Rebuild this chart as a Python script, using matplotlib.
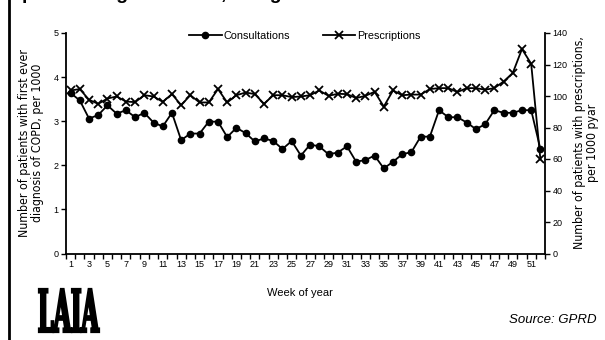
import matplotlib
matplotlib.use("Agg")
import matplotlib.pyplot as plt
from matplotlib.lines import Line2D
from matplotlib.textpath import TextPath
from matplotlib.patches import PathPatch
from matplotlib.font_manager import FontProperties
from matplotlib.transforms import Affine2D
import numpy as np

weeks = list(range(1, 53))

consultations = [
    3.64, 3.47, 3.06, 3.14, 3.36, 3.17, 3.25, 3.09, 3.19, 2.97,
    2.88, 3.19, 2.57, 2.72, 2.72, 2.99, 2.99, 2.64, 2.85, 2.73,
    2.54, 2.61, 2.55, 2.37, 2.55, 2.22, 2.47, 2.43, 2.25, 2.29,
    2.43, 2.08, 2.12, 2.22, 1.93, 2.08, 2.25, 2.30, 2.65, 2.65,
    3.25, 3.09, 3.09, 2.97, 2.82, 2.93, 3.25, 3.19, 3.19, 3.25,
    3.25, 2.37,
]

prescriptions = [
    103.5, 104.4, 97.6, 95.0, 98.4, 99.7, 96.5, 96.1, 100.5, 99.7,
    96.3, 101.2, 94.2, 100.5, 95.9, 95.9, 104.4, 95.9, 100.5, 102.2,
    101.2, 95.0, 100.5, 100.5, 99.3, 99.7, 100.5, 103.5, 100.1, 101.4,
    101.2, 98.7, 100.1, 102.7, 93.3, 103.5, 100.5, 100.9, 100.9, 104.4,
    105.0, 105.0, 102.5, 105.0, 105.0, 104.0, 105.0, 109.2, 114.6, 129.8,
    120.5, 59.8,
]

week_labels = [str(w) for w in range(1, 53, 2)]
left_ticks = [0, 1, 2, 3, 4, 5]
right_ticks = [0, 20, 40, 60, 80, 100, 120, 140]

W, H = 605, 340
fig = plt.figure(figsize=(W / 100, H / 100), dpi=100)
fig.patch.set_facecolor("white")

reg = ["Liberation Sans", "DejaVu Sans"]
cond = ["DejaVu Sans", "Liberation Sans"]


def fy(py):
    """Pixel row measured from the top -> figure fraction."""
    return 1 - py / H


x0, x1 = 66, 545
y_top, y_bot = 33, 253.5
ax = fig.add_axes([x0 / W, (H - y_bot) / H, (x1 - x0) / W, (y_bot - y_top) / H])
ax2 = ax.twinx()

l1, = ax.plot(weeks, consultations, color="black", lw=1.3, marker="o",
              markersize=4.5, label="Consultations", zorder=3)
l2, = ax2.plot(weeks, prescriptions, color="black", lw=1.3, marker="x",
               markersize=6, markeredgewidth=1.3, label="Prescriptions", zorder=3)

ax.set_xlim(0.5, 52.5)
ax.set_ylim(0, 5)
ax2.set_ylim(0, 140)

for a in (ax, ax2):
    a.spines["top"].set_visible(False)
    a.patch.set_visible(False)
ax.spines["right"].set_visible(False)
ax2.spines["left"].set_visible(False)
ax2.spines["bottom"].set_visible(False)
for s in ("left", "bottom"):
    ax.spines[s].set_linewidth(1.3)
ax2.spines["right"].set_linewidth(1.3)

ax.set_xticks(list(range(1, 53, 2)))
ax.set_xticklabels(week_labels, fontsize=6.5, family=reg)
ax.set_xticks(np.arange(0.5, 53.0, 1.0), minor=True)
ax.tick_params(axis="x", which="major", length=0, pad=5)
ax.tick_params(axis="x", which="minor", length=3.5, width=1.0, direction="out")

ax.set_yticks(left_ticks)
ax.set_yticklabels([str(v) for v in left_ticks], fontsize=6.5, family=reg)
ax.tick_params(axis="y", length=3.5, width=1.0, direction="out", pad=2)

ax2.set_yticks(right_ticks)
ax2.set_yticklabels([str(v) for v in right_ticks], fontsize=6.5, family=reg)
ax2.tick_params(axis="y", length=3.5, width=1.0, direction="out", pad=2)

fig.text(300 / W, fy(293), "Week of year", fontsize=8, family=reg,
         ha="center", va="center")
fig.text(31 / W, fy(143), "Number of patients with first ever\ndiagnosis of COPD, per 1000",
         fontsize=8.8, family=cond, stretch="condensed", rotation=90,
         linespacing=1.0, ha="center", va="center")
fig.text(586 / W, fy(143), "Number of patients with prescriptions,\nper 1000 pyar",
         fontsize=8.8, family=cond, stretch="condensed", rotation=90,
         linespacing=1.0, ha="center", va="center")

fig.legend(handles=[l1, l2], loc="center", bbox_to_anchor=(305 / W, fy(36)),
           ncol=2, frameon=False, prop={"family": reg, "size": 7.8},
           handlelength=3.0, columnspacing=3.0, handletextpad=0.2)

# heading line running off the top edge
fig.text(22 / W, 1 + 1.0 / H, "prescribing for COPD, all ages", fontsize=14,
         weight="bold", family=reg, va="baseline", ha="left")

# frame line along the left edge
fig.add_artist(Line2D([8.5 / W, 8.5 / W], [0, 1], transform=fig.transFigure,
                      color="black", lw=2.0))

# logo: narrow, tall, heavy lettering squeezed into its box
logo = TextPath((0, 0), "LAIA", size=10,
                prop=FontProperties(family=["DejaVu Serif"], weight="bold"))
ext = logo.get_extents()
bx0, bx1, by_top, by_bot = 39, 99, 289, 332
sx = (bx1 - bx0) / W / ext.width
sy = (by_bot - by_top) / H / ext.height
tr = (Affine2D().translate(-ext.x0, -ext.y0).scale(sx, sy)
      .translate(bx0 / W, fy(by_bot)) + fig.transFigure)
fig.add_artist(PathPatch(logo, transform=tr, facecolor="black",
                         edgecolor="black", linewidth=1.6))

fig.text(597 / W, fy(320), "Source: GPRD", fontsize=9.5, style="italic",
         family=reg, ha="right", va="center")

fig.savefig("out.png", dpi=100, facecolor="white")
